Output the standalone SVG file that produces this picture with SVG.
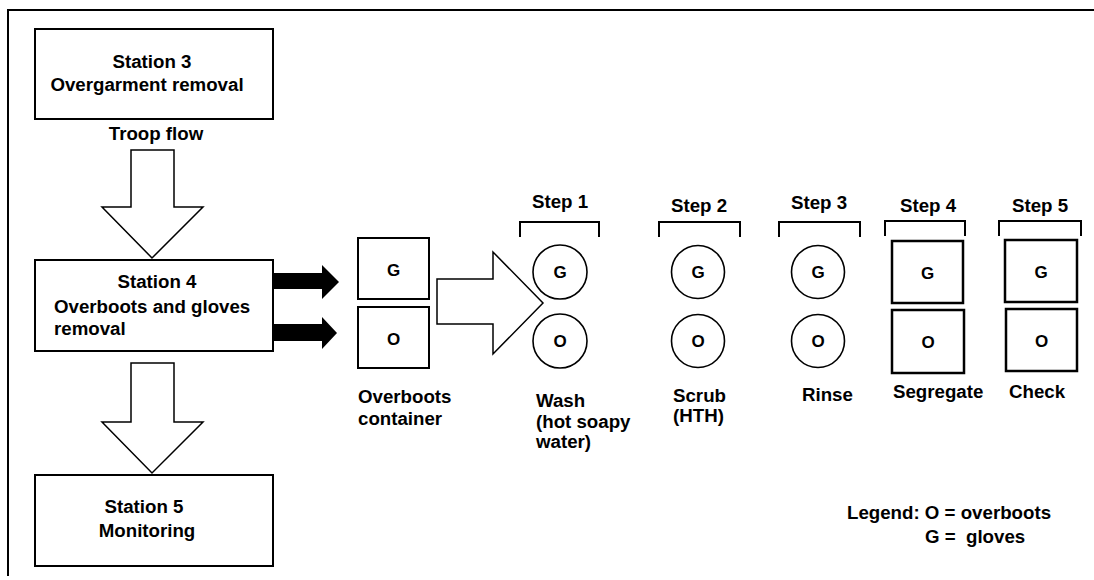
<svg xmlns="http://www.w3.org/2000/svg" width="1094" height="580" viewBox="0 0 1094 580">
<style>
text{font-family:"Liberation Sans",Arial,sans-serif;font-weight:bold;fill:#000}
.t{font-size:18.7px}
.l{font-size:17px;text-anchor:middle}
.m{text-anchor:middle}
.box{fill:#fff;stroke:#000;stroke-width:2}
.tbox{fill:#fff;stroke:#000;stroke-width:2.5}
.circ{fill:#fff;stroke:#000;stroke-width:1.6}
.hollow{fill:#fff;stroke:#000;stroke-width:1.5;stroke-linejoin:miter}
.solid{fill:#000;stroke:none}
.br{fill:none;stroke:#000;stroke-width:2}
.frame{fill:none;stroke:#000;stroke-width:2}
</style>
<rect width="1094" height="580" fill="#fff"/>
<path class="frame" d="M8,576 V10 H1094"/>

<g id="station3">
<rect class="box" x="35" y="29" width="238" height="90"/>
<text class="t m" x="152" y="68">Station 3</text>
<text class="t m" x="147" y="91">Overgarment removal</text>
</g>
<g id="troop-flow-label">
<text class="t m" x="156" y="140">Troop flow</text>
</g>
<g id="station4">
<rect class="box" x="35" y="260" width="238" height="91"/>
<text class="t m" x="157" y="288">Station 4</text>
<text class="t" x="54" y="313">Overboots and gloves</text>
<text class="t" x="54" y="335">removal</text>
</g>
<g id="station5">
<rect class="box" x="35" y="475" width="238" height="91"/>
<text class="t m" x="144" y="513">Station 5</text>
<text class="t m" x="147" y="537">Monitoring</text>
</g>

<g id="overboots-container">
<rect class="box" x="358" y="238" width="71" height="61"/>
<text class="l" x="393.5" y="276">G</text>
<rect class="box" x="358" y="307" width="71" height="61"/>
<text class="l" x="393.5" y="345">O</text>
<text class="t" x="358" y="403">Overboots</text>
<text class="t" x="358" y="425">container</text>
</g>

<g id="step1">
<text class="t m" x="560" y="208">Step 1</text>
<path class="br" d="M520,237 V222 H599 V237"/>
<circle class="circ" cx="560" cy="272" r="27"/>
<text class="l" x="560" y="278">G</text>
<circle class="circ" cx="560" cy="341" r="27"/>
<text class="l" x="560" y="347">O</text>
<text class="t" x="536" y="407">Wash</text>
<text class="t" x="536" y="428">(hot soapy</text>
<text class="t" x="536" y="448">water)</text>
</g>

<g id="step2">
<text class="t m" x="699" y="212">Step 2</text>
<path class="br" d="M659,237 V222 H740 V237"/>
<circle class="circ" cx="698" cy="272" r="26.5"/>
<text class="l" x="698" y="278">G</text>
<circle class="circ" cx="698" cy="341" r="26.5"/>
<text class="l" x="698" y="347">O</text>
<text class="t" x="673" y="402">Scrub</text>
<text class="t" x="673" y="422">(HTH)</text>
</g>

<g id="step3">
<text class="t m" x="819" y="209">Step 3</text>
<path class="br" d="M779,237 V222 H860 V237"/>
<circle class="circ" cx="818" cy="272" r="26.5"/>
<text class="l" x="818" y="278">G</text>
<circle class="circ" cx="818" cy="341" r="26.5"/>
<text class="l" x="818" y="347">O</text>
<text class="t" x="802" y="401">Rinse</text>
</g>

<g id="step4">
<text class="t m" x="928" y="212">Step 4</text>
<path class="br" d="M885,236 V221 H965 V236"/>
<rect class="tbox" x="892" y="241" width="71" height="62"/>
<text class="l" x="927.5" y="279">G</text>
<rect class="tbox" x="892" y="310" width="72" height="63"/>
<text class="l" x="928" y="348">O</text>
<text class="t" x="893" y="398">Segregate</text>
</g>

<g id="step5">
<text class="t m" x="1040" y="212">Step 5</text>
<path class="br" d="M999,236 V221 H1081 V236"/>
<rect class="tbox" x="1005" y="240" width="72" height="62"/>
<text class="l" x="1041" y="278">G</text>
<rect class="tbox" x="1006" y="309" width="71" height="62"/>
<text class="l" x="1041.5" y="347">O</text>
<text class="t" x="1009" y="398">Check</text>
</g>

<g id="legend">
<text class="t" x="847" y="519">Legend: O = overboots</text>
<text class="t" x="925" y="543">G =</text>
<text class="t" x="966" y="543">gloves</text>
</g>

<g id="connectors">
<polygon class="hollow" points="131,150 174,150 174,207 203,207 152,258 102,207 131,207"/>
<polygon class="hollow" points="131,363 174,363 174,422 203,422 152,473 102,422 131,422"/>
<polygon class="hollow" points="437,279 493,279 493,252 543,303 493,354 493,324 437,324"/>
<polygon class="solid" points="273,273 322,273 322,265 339,282 322,299 322,289 273,289"/>
<polygon class="solid" points="273,324 322,324 322,317 337,333 322,349 322,341 273,341"/>
</g>
</svg>
